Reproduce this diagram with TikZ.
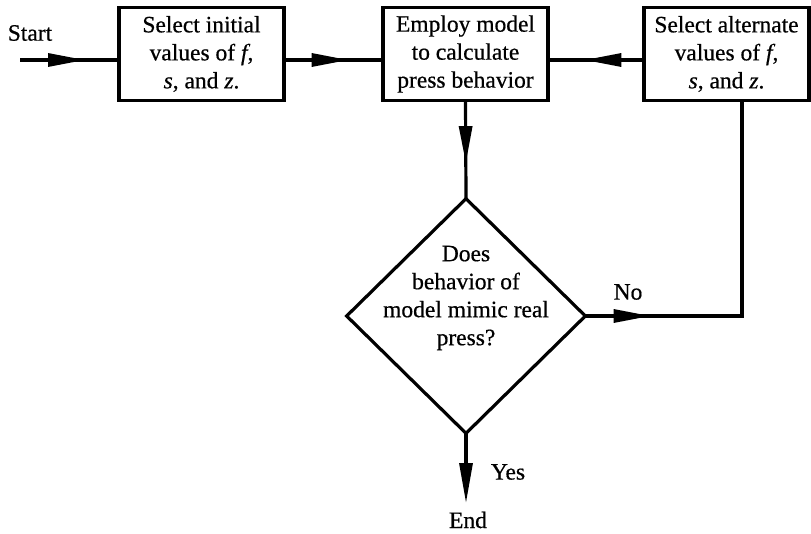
\documentclass[tikz,border=0pt]{standalone}
\usepackage{fontspec}
\setmainfont{Liberation Serif}[FakeBold=0.6]
\usetikzlibrary{arrows.meta,shapes.geometric,decorations.markings}

\tikzset{
  flow/.style={line width=3.2pt, line cap=rect},
  midarrow/.style={postaction={decorate},
    decoration={markings, mark=at position #1 with {\arrow{Triangle[length=37pt,width=13pt]}}}},
  stepbox/.style={draw, line width=3.2pt, minimum width=165pt, minimum height=93pt,
    inner sep=0pt, align=center, font=\fontsize{23.5}{28}\selectfont},
  decision/.style={draw, diamond, line width=3.2pt, minimum width=240pt,
    minimum height=236pt, inner sep=0pt},
  label/.style={font=\fontsize{23.5}{28}\selectfont, inner sep=0pt, align=center}
}

\begin{document}
\begin{tikzpicture}[x=1pt, y=-1pt]
  \useasboundingbox (0,0) rectangle (811,534);

  % process boxes
  \node[stepbox] (b1) at (201.5,54) {Select initial\\values of \textit{f},\\\textit{s}, and \textit{z}.};
  \node[stepbox] (b2) at (465.5,54) {Employ model\\to calculate\\press behavior};
  \node[stepbox] (b3) at (726.5,54) {Select alternate\\values of \textit{f},\\\textit{s}, and \textit{z}.};

  % decision
  \node[decision] (d) at (466,316) {};
  \node[label] (dq) at (466,298) {Does\\behavior of\\model mimic real\\press?};

  % terminals and labels
  \node[label] (start) at (30,33) {Start};
  \node[label] (end) at (468,520) {End};
  \node[label] (no) at (628,292) {No};
  \node[label] (yes) at (508,472) {Yes};

  \coordinate (arrowy) at (0,60);
  \coordinate (s0) at (22,60);
  \coordinate (corner) at (742,316);
  \coordinate (e0) at (466,503);

  % connectors
  \draw[flow, midarrow=63pt] (s0) -- (b1.west |- arrowy);
  \draw[flow, midarrow=63pt] (b1.east |- arrowy) -- (b2.west |- arrowy);
  \draw[flow, midarrow=58pt] (b3.west |- arrowy) -- (b2.east |- arrowy);
  \draw[flow, midarrow=61pt] (b2.south) -- (d.north);
  \draw[flow, midarrow=63pt] (d.east) -- (corner) -- (b3.south -| corner);
  \draw[flow, -{Triangle[length=40pt,width=13pt]}] (d.south) -- (e0);
\end{tikzpicture}
\end{document}
